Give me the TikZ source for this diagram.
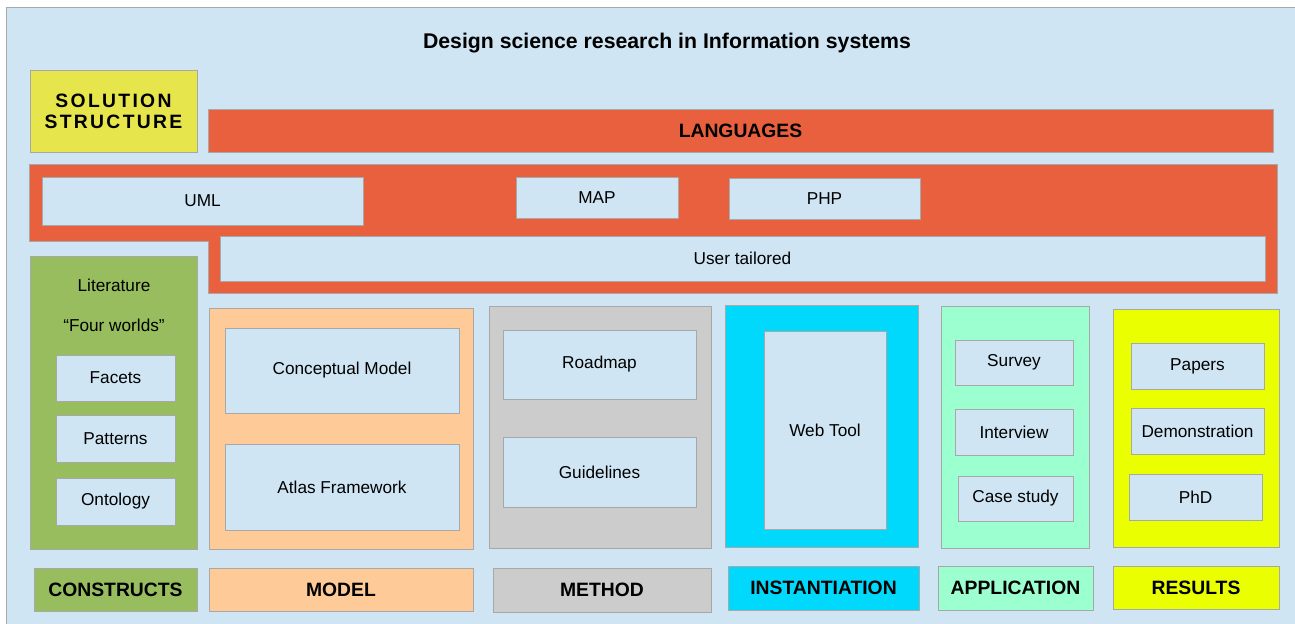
\documentclass[tikz,border=0pt]{standalone}
\usepackage{fontspec}
\setmainfont{Liberation Sans}
\definecolor{bgblue}{HTML}{CFE5F3}
\definecolor{bordergray}{HTML}{A8A8A8}
\definecolor{solyellow}{HTML}{E6E64C}
\definecolor{langred}{HTML}{E8603E}
\definecolor{constgreen}{HTML}{97BD5E}
\definecolor{modelpeach}{HTML}{FECB98}
\definecolor{methodgray}{HTML}{CCCCCC}
\definecolor{instcyan}{HTML}{00D9FB}
\definecolor{appmint}{HTML}{9CFFD0}
\definecolor{resyellow}{HTML}{EAFF00}
\tikzset{
  rect/.style n args={4}{minimum width={(#3-#1)*0.02cm}, minimum height={(#4-#2)*0.02cm},
     at={({(#1+#3)/2},{(#2+#4)/2})}},
  box/.style={draw=bordergray, line width=0.5pt, inner sep=0pt, outer sep=0pt},
  inbox/.style={box, fill=bgblue, font=\fontsize{9.8}{11.5}\selectfont},
  labbox/.style={box, font=\fontsize{11}{13}\selectfont\bfseries},
  plain/.style={inner sep=0pt, font=\fontsize{9.8}{11.5}\selectfont}
}
\begin{document}
\begin{tikzpicture}[x=0.02cm,y=-0.02cm]
\useasboundingbox (0,0) rectangle (1295,623);
% background
\fill[white] (0,0) rectangle (1295,623);
\node[box, fill=bgblue, rect={6}{7}{1300}{630}] (bg) {};
% title
\node[inner sep=0pt, font=\fontsize{12.1}{14}\selectfont\bfseries] (title) at (667,43) {Design science research in Information systems};
% solution structure
\node[box, fill=solyellow, rect={30}{70}{197}{152}, align=center,
  font=\fontsize{11}{12}\selectfont\bfseries\addfontfeatures{LetterSpace=12}] (sol) {SOLUTION\\STRUCTURE};
% languages
\node[labbox, fill=langred, rect={208}{109}{1273}{152}] (lang) {LANGUAGES};
% orange L-shape
\filldraw[fill=langred, draw=bordergray, line width=0.5pt]
  (29,164) -- (1277,164) -- (1277,293) -- (208,293) -- (208,241) -- (29,241) -- cycle;
\node[inbox, rect={42}{177}{363}{225}] (uml) {UML};
\node[inbox, rect={516}{177}{678}{218}] (map) {MAP};
\node[inbox, rect={729}{178}{920}{219}] (php) {PHP};
\node[inbox, rect={220}{236}{1265}{281}] (user) {User tailored};
% constructs column
\node[box, fill=constgreen, rect={30}{256}{197}{549}] (constcol) {};
\node[plain] (lit) at (114,285) {Literature};
\node[plain] (four) at (114,325) {“Four worlds”};
\node[inbox, rect={56}{355}{175}{401}] (facets) {Facets};
\node[inbox, rect={56}{415}{175}{462}] (patterns) {Patterns};
\node[inbox, rect={56}{478}{175}{525}] (ontology) {Ontology};
% model column
\node[box, fill=modelpeach, rect={209}{308}{473}{549}] (modelcol) {};
\node[inbox, rect={225}{328}{459}{413}] (concept) {Conceptual Model};
\node[inbox, rect={225}{444}{459}{530}] (atlas) {Atlas Framework};
% method column
\node[box, fill=methodgray, rect={489}{306}{711}{548}] (methodcol) {};
\node[inbox, rect={503}{330}{696}{399}] (roadmap) {Roadmap};
\node[inbox, rect={503}{437}{696}{507}] (guide) {Guidelines};
% instantiation column
\node[box, fill=instcyan, rect={725}{305}{918}{547}] (instcol) {};
\node[inbox, rect={764}{331}{886}{529}] (webtool) {Web Tool};
% application column
\node[box, fill=appmint, rect={941}{306}{1089}{548}] (appcol) {};
\node[inbox, rect={955}{340}{1073}{385}] (survey) {Survey};
\node[inbox, rect={955}{409}{1073}{455}] (interview) {Interview};
\node[inbox, rect={958}{476}{1073}{521}] (case) {Case study};
% results column
\node[box, fill=resyellow, rect={1113}{309}{1279}{547}] (rescol) {};
\node[inbox, rect={1131}{343}{1264}{389}] (papers) {Papers};
\node[inbox, rect={1131}{408}{1264}{454}] (demo) {Demonstration};
\node[inbox, rect={1129}{474}{1262}{520}] (phd) {PhD};
% bottom labels
\node[labbox, fill=constgreen, rect={34}{568}{197}{611}] (lconst) {CONSTRUCTS};
\node[labbox, fill=modelpeach, rect={209}{568}{473}{611}] (lmodel) {MODEL};
\node[labbox, fill=methodgray, rect={493}{568}{711}{612}] (lmethod) {METHOD};
\node[labbox, fill=instcyan, rect={728}{566}{919}{610}] (linst) {INSTANTIATION};
\node[labbox, fill=appmint, rect={938}{566}{1093}{610}] (lapp) {APPLICATION};
\node[labbox, fill=resyellow, rect={1113}{566}{1279}{609}] (lres) {RESULTS};
\end{tikzpicture}
\end{document}
